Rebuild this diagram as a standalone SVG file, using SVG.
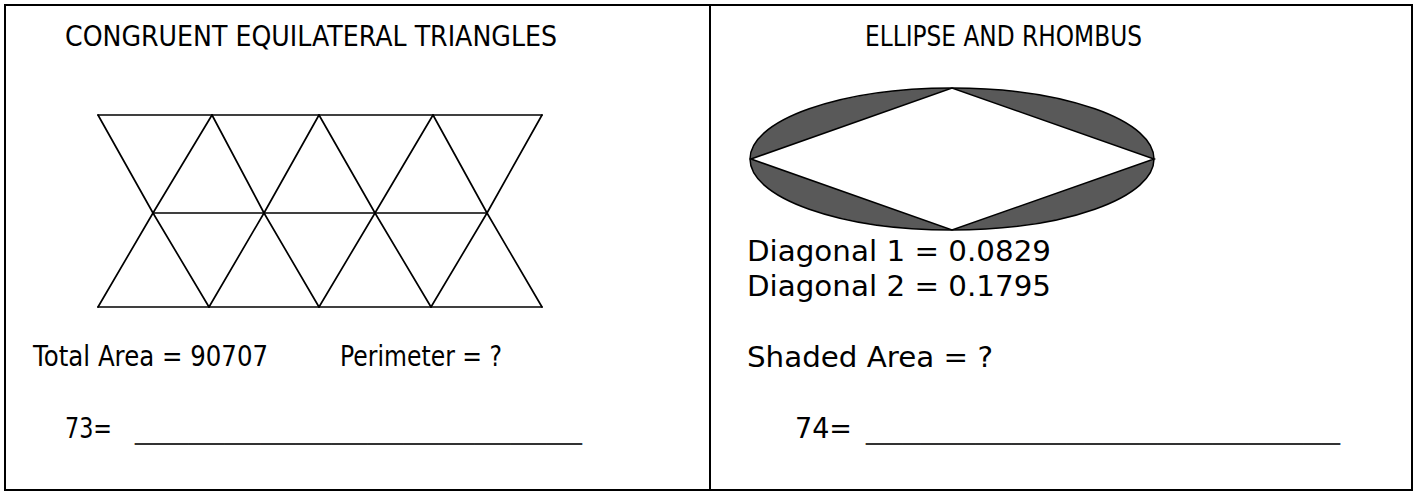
<svg xmlns="http://www.w3.org/2000/svg" width="1416" height="491" viewBox="0 0 1416 491">
<style>
.t{font-family:"DejaVu Sans","Liberation Sans",sans-serif;font-size:28.5px;fill:#000}
.u{font-family:"DejaVu Sans","Liberation Sans",sans-serif;font-size:28.5px;fill:#333}
.ln{stroke:#000;stroke-width:1.7;fill:none;stroke-linecap:round}
</style>
<rect width="1416" height="491" fill="#fff"/>
<g id="frame" fill="none" stroke="#000" stroke-width="2">
<rect x="5" y="5" width="1407" height="485"/>
<line x1="710" y1="5" x2="710" y2="491"/>
</g>
<g id="left-panel">
<text class="t" x="65" y="46" textLength="492" lengthAdjust="spacingAndGlyphs">CONGRUENT EQUILATERAL TRIANGLES</text>
<g id="triangles" class="ln">
<line x1="98" y1="115" x2="542" y2="115"/>
<line x1="153" y1="213" x2="487" y2="213"/>
<line x1="98" y1="307" x2="542" y2="307"/>
<line x1="98" y1="115" x2="153" y2="213"/>
<line x1="212" y1="115" x2="153" y2="213"/>
<line x1="212" y1="115" x2="264" y2="213"/>
<line x1="319" y1="115" x2="264" y2="213"/>
<line x1="319" y1="115" x2="375" y2="213"/>
<line x1="433" y1="115" x2="375" y2="213"/>
<line x1="433" y1="115" x2="487" y2="213"/>
<line x1="542" y1="115" x2="487" y2="213"/>
<line x1="153" y1="213" x2="98" y2="307"/>
<line x1="153" y1="213" x2="209" y2="307"/>
<line x1="264" y1="213" x2="209" y2="307"/>
<line x1="264" y1="213" x2="319" y2="307"/>
<line x1="375" y1="213" x2="319" y2="307"/>
<line x1="375" y1="213" x2="431" y2="307"/>
<line x1="487" y1="213" x2="431" y2="307"/>
<line x1="487" y1="213" x2="542" y2="307"/>
</g>
<text class="t" x="33" y="366" textLength="235" lengthAdjust="spacingAndGlyphs">Total Area = 90707</text>
<text class="t" x="340" y="366" textLength="162" lengthAdjust="spacingAndGlyphs">Perimeter = ?</text>
<text class="t" x="65" y="438" textLength="47" lengthAdjust="spacingAndGlyphs">73=</text>
<text class="u" x="135" y="438" textLength="447" lengthAdjust="spacingAndGlyphs">_________________________</text>
</g>
<g id="right-panel">
<text class="t" x="865" y="46" textLength="277" lengthAdjust="spacingAndGlyphs">ELLIPSE AND RHOMBUS</text>
<g id="ellipse-rhombus">
<ellipse cx="952" cy="159" rx="202" ry="71" fill="#595959" stroke="#000" stroke-width="1.5"/>
<polygon points="751,159 952,88 1154,159 952,230" fill="#fff" stroke="#000" stroke-width="1.5"/>
</g>
<text class="t" x="747" y="261" textLength="304" lengthAdjust="spacingAndGlyphs">Diagonal 1 = 0.0829</text>
<text class="t" x="747" y="296" textLength="304" lengthAdjust="spacingAndGlyphs">Diagonal 2 = 0.1795</text>
<text class="t" x="747" y="367" textLength="246" lengthAdjust="spacingAndGlyphs">Shaded Area = ?</text>
<text class="t" x="795" y="438" textLength="57" lengthAdjust="spacingAndGlyphs">74=</text>
<text class="u" x="866" y="438" textLength="474" lengthAdjust="spacingAndGlyphs">__________________________</text>
</g>
</svg>
